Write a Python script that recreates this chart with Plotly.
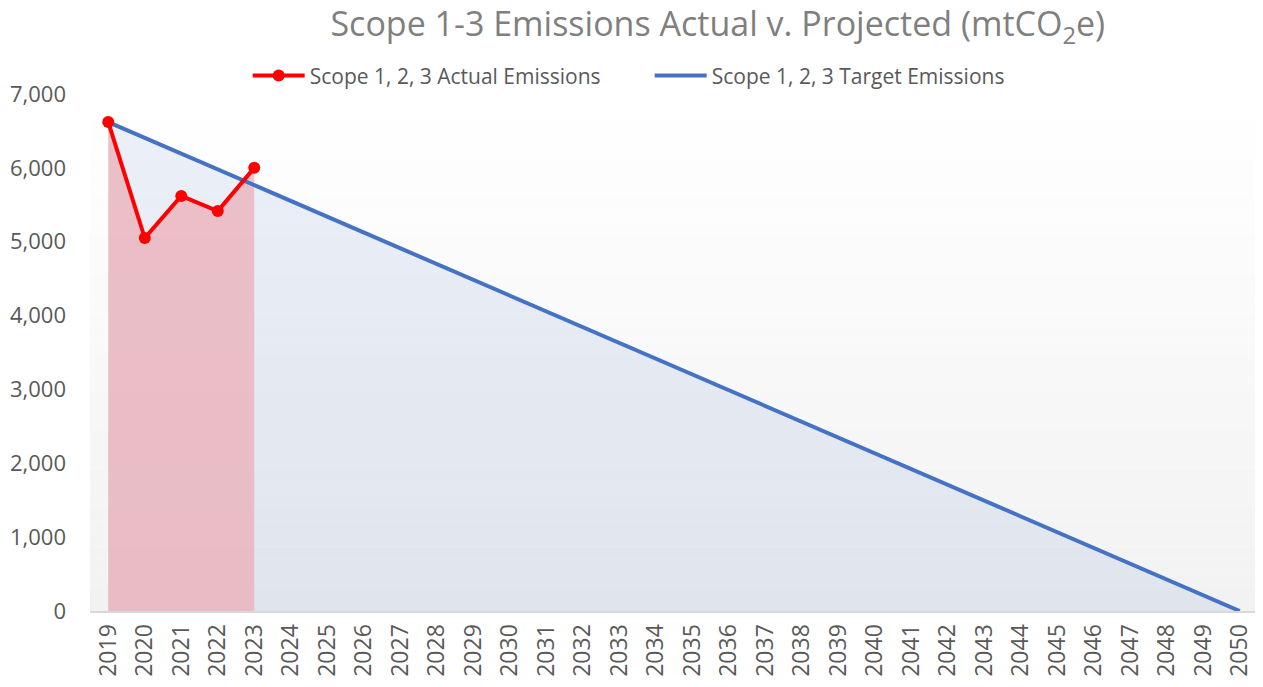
import plotly.graph_objects as go

years = list(range(2019, 2051))
actual_years = [2019, 2020, 2021, 2022, 2023]
actual_values = [6620, 5050, 5620, 5415, 6000]
target_values = [6620, 6406, 6193, 5979, 5766, 5552, 5339, 5125, 4912, 4698, 4485,
                 4271, 4058, 3844, 3631, 3417, 3203, 2990, 2776, 2563, 2349, 2136,
                 1922, 1709, 1495, 1282, 1068, 855, 641, 427, 214, 0]
y_ticks = [0, 1000, 2000, 3000, 4000, 5000, 6000, 7000]

FONT = "Open Sans"
fig = go.Figure()

fig.add_trace(go.Scatter(x=years, y=target_values, mode="none", fill="tozeroy",
                         fillcolor="rgba(68,114,196,0.10)", showlegend=False, hoverinfo="skip"))
fig.add_trace(go.Scatter(x=actual_years, y=actual_values, mode="none", fill="tozeroy",
                         fillcolor="rgba(236,172,182,0.72)", showlegend=False, hoverinfo="skip"))
fig.add_trace(go.Scatter(x=years, y=target_values, mode="lines", name="Scope 1, 2, 3 Target Emissions",
                         line=dict(color="#4472c4", width=4), legendrank=2))
fig.add_trace(go.Scatter(x=actual_years, y=actual_values, mode="lines+markers",
                         name="Scope 1, 2, 3 Actual Emissions",
                         line=dict(color="#ff0000", width=4), marker=dict(size=12, color="#ff0000"),
                         legendrank=1))

# subtle vertical gradient in plot background
shapes = []
n = 40
for i in range(n):
    t = (i + 0.5) / n  # 0 top -> 1 bottom
    g = int(round(255 - 13 * t))
    shapes.append(dict(type="rect", xref="paper", yref="paper", x0=0, x1=1,
                       y0=1 - (i + 1) / n, y1=1 - i / n, fillcolor=f"rgb({g},{g},{g})",
                       line=dict(width=0), layer="below"))

fig.update_layout(
    width=1263, height=687,
    margin=dict(l=82, r=13, t=86, b=84),
    paper_bgcolor="white", plot_bgcolor="white",
    shapes=shapes,
    font=dict(family=FONT, color="#595959", size=21),
    title=dict(text="Scope 1-3 Emissions Actual v. Projected (mtCO<sub>2</sub>e)",
               x=0.562, xanchor="center", y=0.976, yanchor="middle",
               font=dict(family=FONT, size=34, color="#7f7f7f")),
    legend=dict(orientation="h", x=0.135, xanchor="left", y=1.035, yanchor="middle",
                font=dict(family=FONT, size=21, color="#595959"),
                itemwidth=52, entrywidth=335, entrywidthmode="pixels",
                bgcolor="rgba(0,0,0,0)"),
    xaxis=dict(range=[2018.5, 2050.5], tickmode="array", tickvals=years,
               ticktext=[str(y) for y in years], tickangle=-90, showgrid=False,
               showline=True, linecolor="#d9d9d9", linewidth=2, zeroline=False,
               ticks="", tickfont=dict(size=23), ticklabelstandoff=2, automargin=False),
    yaxis=dict(range=[0, 7000], tickvals=y_ticks, tickformat=",", showgrid=False,
               zeroline=False, showline=False, ticks="", ticklabelstandoff=23,
               tickfont=dict(size=22), automargin=False),
)

fig.write_html("out.html")
